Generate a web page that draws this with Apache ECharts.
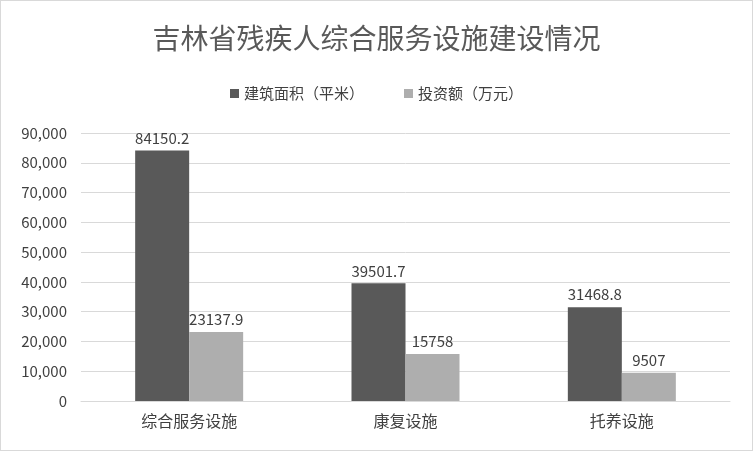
<!DOCTYPE html>
<html><head><meta charset="utf-8">
<script src="https://cdn.jsdelivr.net/npm/echarts@6/dist/echarts.min.js"></script>
<style>html,body{margin:0;padding:0;background:#fff}#c{width:751px;height:449px;border:1px solid #d9d9d9}</style>
</head><body><div id="c"></div>
<script>
const categories = ['综合服务设施','康复设施','托养设施'];
const areaValues = [84150.2, 39501.7, 31468.8];
const investValues = [23137.9, 15758, 9507];
const seriesNames = ['建筑面积（平米）','投资额（万元）'];
const chart = echarts.init(document.getElementById('c'));
const font = '"Noto Sans CJK SC", sans-serif';
chart.setOption({
  animation:false,
  title:{text:'吉林省残疾人综合服务设施建设情况',left:'center',top:18,textStyle:{fontFamily:font,fontSize:28,fontWeight:'normal',color:'#595959'}},
  legend:{top:80,left:'center',itemWidth:9,itemHeight:9,itemGap:40,icon:'rect',textStyle:{fontFamily:font,fontSize:15,color:'#404040'}},
  grid:{left:80,right:22,top:132,bottom:49},
  xAxis:{type:'category',data:categories,axisTick:{show:false},axisLine:{lineStyle:{color:'#d9d9d9'}},axisLabel:{fontFamily:font,fontSize:16,color:'#404040',margin:12}},
  yAxis:{type:'value',min:0,max:90000,interval:10000,axisLabel:{fontFamily:font,fontSize:15,color:'#404040',margin:14},splitLine:{lineStyle:{color:'#d9d9d9'}}},
  series:[
    {name:seriesNames[0],type:'bar',data:areaValues,barWidth:54,barGap:'0%',itemStyle:{color:'#595959'},label:{show:true,position:'top',fontFamily:font,fontSize:15,color:'#404040'}},
    {name:seriesNames[1],type:'bar',data:investValues,barWidth:54,itemStyle:{color:'#aeaeae'},label:{show:true,position:'top',fontFamily:font,fontSize:15,color:'#404040'}}
  ]
});
</script></body></html>
